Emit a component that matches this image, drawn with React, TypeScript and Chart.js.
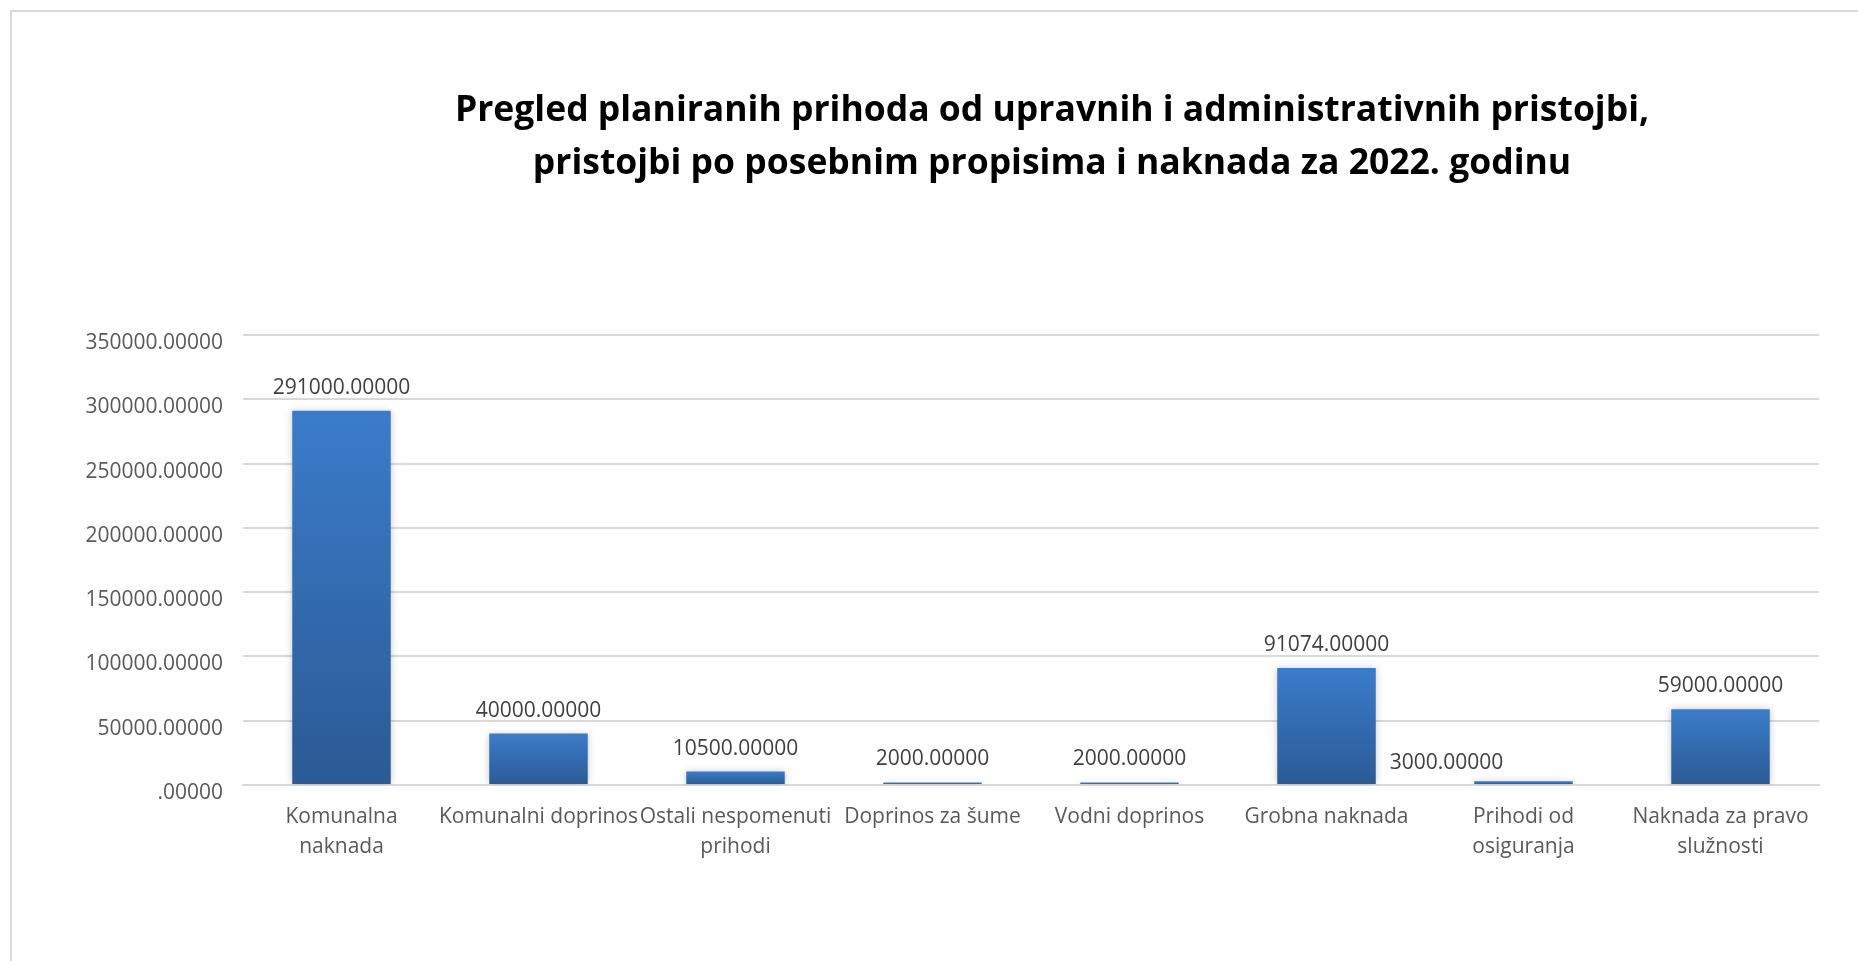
import React, { useEffect, useRef } from "react";
import { Chart, registerables } from "chart.js";

Chart.register(...registerables);

const categories: (string | string[])[] = [
  ["Komunalna", "naknada"],
  "Komunalni doprinos",
  ["Ostali nespomenuti", "prihodi"],
  "Doprinos za šume",
  "Vodni doprinos",
  "Grobna naknada",
  ["Prihodi od", "osiguranja"],
  ["Naknada za pravo", "služnosti"],
];

const values: number[] = [291000, 40000, 10500, 2000, 2000, 91074, 3000, 59000];

const titleLines: string[] = [
  "Pregled planiranih prihoda od upravnih i administrativnih pristojbi,",
  "pristojbi po posebnim propisima i naknada za 2022. godinu",
];

const yMin = 0;
const yMax = 350000;
const yStep = 50000;

const fmt = (v: number) => {
  const s = v.toFixed(5);
  return s.startsWith("0.") ? s.slice(1) : s;
};

const FONT = "'Open Sans', 'Noto Sans', sans-serif";

export default function App() {
  const ref = useRef<HTMLCanvasElement | null>(null);

  useEffect(() => {
    document.body.style.overflow = "hidden";
    const canvas = ref.current!;

    const labelPlugin = {
      id: "barDecor",
      beforeDatasetsDraw(chart: any) {
        const ctx = chart.ctx;
        ctx.save();
        ctx.shadowColor = "rgba(0,0,0,0.22)";
        ctx.shadowBlur = 7;
        ctx.shadowOffsetX = 0;
        ctx.shadowOffsetY = 0;
      },
      afterDatasetsDraw(chart: any) {
        const ctx = chart.ctx;
        ctx.restore();
        const meta = chart.getDatasetMeta(0);
        ctx.save();
        ctx.font = `21px ${FONT}`;
        ctx.fillStyle = "#404040";
        ctx.textAlign = "center";
        ctx.textBaseline = "alphabetic";
        meta.data.forEach((el: any, i: number) => {
          const v = values[i];
          let dx = 0;
          let dy = -17;
          if (i === 6) {
            dx = -77;
            dy = -12;
          }
          ctx.fillText(fmt(v), el.x + dx, el.y + dy);
        });
        ctx.restore();
      },
      afterDraw(chart: any) {
        const ctx = chart.ctx;
        ctx.save();
        ctx.font = `bold 35.5px ${FONT}`;
        ctx.fillStyle = "#000000";
        ctx.textAlign = "center";
        ctx.textBaseline = "alphabetic";
        const cx = 1052;
        ctx.fillText(titleLines[0], cx, 121);
        ctx.fillText(titleLines[1], cx, 174);
        ctx.restore();
      },
    };

    const chart = new Chart(canvas, {
      type: "bar",
      data: {
        labels: categories,
        datasets: [
          {
            data: values,
            backgroundColor: (c: any) => {
              const ch = c.chart;
              if (!ch.chartArea || c.type !== "data") return "#3A78C5";
              const ys = ch.scales.y;
              const top = ys.getPixelForValue(c.raw);
              const base = ys.getPixelForValue(0);
              if (!isFinite(top) || !isFinite(base) || base - top < 1) return "#3A7BC8";
              const g = ch.ctx.createLinearGradient(0, top, 0, base);
              g.addColorStop(0, "#3B7CCA");
              g.addColorStop(1, "#2B5A95");
              return g;
            },
            borderWidth: 0,
            barPercentage: 0.5,
            categoryPercentage: 1.0,
          },
        ],
      },
      options: {
        responsive: false,
        animation: false,
        layout: { padding: { left: 0, right: 39, top: 335, bottom: 0 } },
        plugins: {
          legend: { display: false },
          title: { display: false },
          tooltip: { enabled: false },
        },
        scales: {
          x: {
            grid: { display: false, drawTicks: false },
            border: { display: true, color: "#D9D9D9", width: 2 },
            ticks: {
              autoSkip: false,
              maxRotation: 0,
              minRotation: 0,
              padding: 17,
              color: "#595959",
              font: { family: FONT, size: 21, lineHeight: 30 / 21 },
            },
            afterFit: (s: any) => {
              s.height = 961 - 785;
            },
          },
          y: {
            min: yMin,
            max: yMax,
            grid: { color: "#D9D9D9", lineWidth: 2, drawTicks: false },
            border: { display: false },
            ticks: {
              stepSize: yStep,
              padding: 20,
              labelOffset: 8,
              color: "#595959",
              font: { family: FONT, size: 21 },
              callback: (v: any) => fmt(Number(v)),
            },
            afterFit: (s: any) => {
              s.width = 243;
            },
          },
        },
      },
      plugins: [labelPlugin],
    } as any);

    return () => chart.destroy();
  }, []);

  return (
    <>
      <div
        style={{
          position: "fixed",
          left: 10,
          top: 10,
          width: 3000,
          height: 3000,
          border: "2px solid #D9D9D9",
          boxSizing: "border-box",
          background: "#fff",
        }}
      />
      <canvas
        ref={ref}
        width={1858}
        height={961}
        style={{ position: "fixed", left: 0, top: 0, width: 1858, height: 961, display: "block" }}
      />
    </>
  );
}
